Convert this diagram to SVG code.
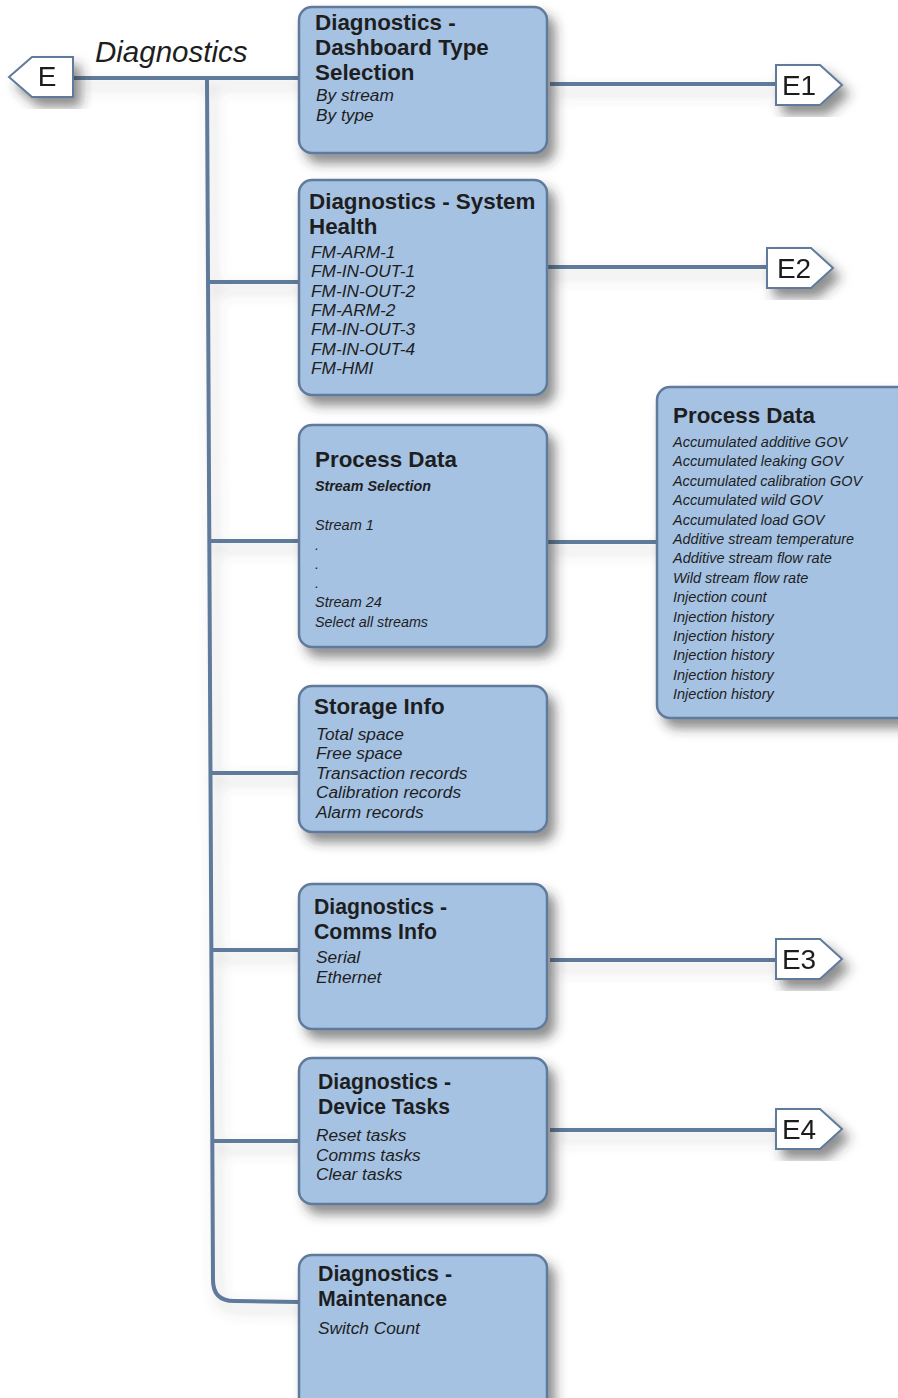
<svg xmlns="http://www.w3.org/2000/svg" width="898" height="1398" viewBox="0 0 898 1398">
<defs>
<filter id="sh" x="-20%" y="-20%" width="150%" height="150%">
<feDropShadow dx="7" dy="9" stdDeviation="6" flood-color="#333" flood-opacity="0.55"/>
</filter>
<filter id="lsh" x="-10%" y="-10%" width="130%" height="130%">
<feDropShadow dx="5" dy="8" stdDeviation="7" flood-color="#555" flood-opacity="0.3"/>
</filter>
<style>
.box{fill:#a5c2e3;stroke:#5f7a9a;stroke-width:2.5}
.tag{fill:#fff;stroke:#5f7a9a;stroke-width:2}
.ln{fill:none;stroke:#5f7a9a;stroke-width:4}
.t{font-family:"Liberation Sans",Arial,sans-serif;font-weight:bold;font-size:22.4px;fill:#1e1e1e}
.i{font-family:"Liberation Sans",Arial,sans-serif;font-style:italic;font-size:17.3px;fill:#1e1e1e}
.s{font-family:"Liberation Sans",Arial,sans-serif;font-style:italic;font-size:14.5px;fill:#1e1e1e}
.tg{font-family:"Liberation Sans",Arial,sans-serif;font-size:28px;fill:#1e1e1e}
</style>
</defs>
<rect width="898" height="1398" fill="#fff"/>

<g id="connectors" filter="url(#lsh)">
<path class="ln" d="M73,78 H299"/>
<path class="ln" d="M207,78 L213,1280 Q213,1301 234,1301 L299,1302"/>
<path class="ln" d="M208,282 H299"/>
<path class="ln" d="M209,541 H299"/>
<path class="ln" d="M210,773 H299"/>
<path class="ln" d="M211,950 H299"/>
<path class="ln" d="M212,1141 H299"/>
<path class="ln" d="M550,84 H775"/>
<path class="ln" d="M543,267 H767"/>
<path class="ln" d="M547,542 H657"/>
<path class="ln" d="M550,960 H775"/>
<path class="ln" d="M550,1130 H775"/>
</g>

<g id="label-diagnostics">
<text x="95" y="62" font-family="Liberation Sans,Arial,sans-serif" font-style="italic" font-size="29.5" fill="#1e1e1e">Diagnostics</text>
</g>

<g id="tag-E" filter="url(#sh)">
<polygon class="tag" points="9,77 32,57 73,57 73,97 32,97"/>
<text class="tg" x="47" y="86" text-anchor="middle">E</text>
</g>
<g id="tag-E1" filter="url(#sh)">
<polygon class="tag" points="776,65 820,65 842,85 820,105 776,105"/>
<text class="tg" x="799" y="95" text-anchor="middle">E1</text>
</g>
<g id="tag-E2" filter="url(#sh)">
<polygon class="tag" points="767,248 811,248 833,268 811,288 767,288"/>
<text class="tg" x="794" y="278" text-anchor="middle">E2</text>
</g>
<g id="tag-E3" filter="url(#sh)">
<polygon class="tag" points="776,939 820,939 842,959 820,979 776,979"/>
<text class="tg" x="799" y="969" text-anchor="middle">E3</text>
</g>
<g id="tag-E4" filter="url(#sh)">
<polygon class="tag" points="776,1109 820,1109 842,1129 820,1149 776,1149"/>
<text class="tg" x="799" y="1139" text-anchor="middle">E4</text>
</g>

<g id="node-dashboard">
<rect class="box" filter="url(#sh)" x="299" y="7" width="248" height="146" rx="13"/>
<text class="t" x="315" y="30">Diagnostics -</text>
<text class="t" x="315" y="55">Dashboard Type</text>
<text class="t" x="315" y="80">Selection</text>
<text class="i" x="316" y="101">By stream</text>
<text class="i" x="316" y="121">By type</text>
</g>

<g id="node-system-health">
<rect class="box" filter="url(#sh)" x="299" y="180" width="248" height="215" rx="13"/>
<text class="t" x="309" y="209">Diagnostics - System</text>
<text class="t" x="309" y="234">Health</text>
<text class="i" x="311" y="258">FM-ARM-1</text>
<text class="i" x="311" y="277">FM-IN-OUT-1</text>
<text class="i" x="311" y="297">FM-IN-OUT-2</text>
<text class="i" x="311" y="316">FM-ARM-2</text>
<text class="i" x="311" y="335">FM-IN-OUT-3</text>
<text class="i" x="311" y="355">FM-IN-OUT-4</text>
<text class="i" x="311" y="374">FM-HMI</text>
</g>

<g id="node-process-data">
<rect class="box" filter="url(#sh)" x="299" y="425" width="248" height="222" rx="13"/>
<text class="t" x="315" y="467">Process Data</text>
<text class="s" x="315" y="491" font-weight="bold" textLength="116" lengthAdjust="spacingAndGlyphs">Stream Selection</text>
<text class="s" x="315" y="530">Stream 1</text>
<text class="s" x="315" y="550">.</text>
<text class="s" x="315" y="569">.</text>
<text class="s" x="315" y="588">.</text>
<text class="s" x="315" y="607">Stream 24</text>
<text class="s" x="315" y="627" textLength="113" lengthAdjust="spacingAndGlyphs">Select all streams</text>
</g>

<g id="node-process-data-detail">
<rect class="box" filter="url(#sh)" x="657" y="387" width="260" height="331" rx="13"/>
<text class="t" x="673" y="423">Process Data</text>
<text class="s" x="673" y="447">Accumulated additive GOV</text>
<text class="s" x="673" y="466">Accumulated leaking GOV</text>
<text class="s" x="673" y="486" textLength="189" lengthAdjust="spacingAndGlyphs">Accumulated calibration GOV</text>
<text class="s" x="673" y="505">Accumulated wild GOV</text>
<text class="s" x="673" y="525">Accumulated load GOV</text>
<text class="s" x="673" y="544" textLength="181" lengthAdjust="spacingAndGlyphs">Additive stream temperature</text>
<text class="s" x="673" y="563">Additive stream flow rate</text>
<text class="s" x="673" y="583">Wild stream flow rate</text>
<text class="s" x="673" y="602">Injection count</text>
<text class="s" x="673" y="622">Injection history</text>
<text class="s" x="673" y="641">Injection history</text>
<text class="s" x="673" y="660">Injection history</text>
<text class="s" x="673" y="680">Injection history</text>
<text class="s" x="673" y="699">Injection history</text>
</g>

<g id="node-storage">
<rect class="box" filter="url(#sh)" x="299" y="686" width="248" height="146" rx="13"/>
<text class="t" x="314" y="714">Storage Info</text>
<text class="i" x="316" y="740">Total space</text>
<text class="i" x="316" y="759">Free space</text>
<text class="i" x="316" y="779">Transaction records</text>
<text class="i" x="316" y="798">Calibration records</text>
<text class="i" x="316" y="818">Alarm records</text>
</g>

<g id="node-comms">
<rect class="box" filter="url(#sh)" x="299" y="884" width="248" height="145" rx="13"/>
<text class="t" x="314" y="914" textLength="133" lengthAdjust="spacingAndGlyphs">Diagnostics -</text>
<text class="t" x="314" y="939" textLength="123" lengthAdjust="spacingAndGlyphs">Comms Info</text>
<text class="i" x="316" y="963">Serial</text>
<text class="i" x="316" y="983">Ethernet</text>
</g>

<g id="node-device-tasks">
<rect class="box" filter="url(#sh)" x="299" y="1058" width="248" height="146" rx="13"/>
<text class="t" x="318" y="1089" textLength="133" lengthAdjust="spacingAndGlyphs">Diagnostics -</text>
<text class="t" x="318" y="1114" textLength="132" lengthAdjust="spacingAndGlyphs">Device Tasks</text>
<text class="i" x="316" y="1141">Reset tasks</text>
<text class="i" x="316" y="1161">Comms tasks</text>
<text class="i" x="316" y="1180">Clear tasks</text>
</g>

<g id="node-maintenance">
<rect class="box" filter="url(#sh)" x="299" y="1255" width="248" height="160" rx="13"/>
<text class="t" x="318" y="1281" textLength="134" lengthAdjust="spacingAndGlyphs">Diagnostics -</text>
<text class="t" x="318" y="1306" textLength="129" lengthAdjust="spacingAndGlyphs">Maintenance</text>
<text class="i" x="318" y="1334">Switch Count</text>
</g>
</svg>
